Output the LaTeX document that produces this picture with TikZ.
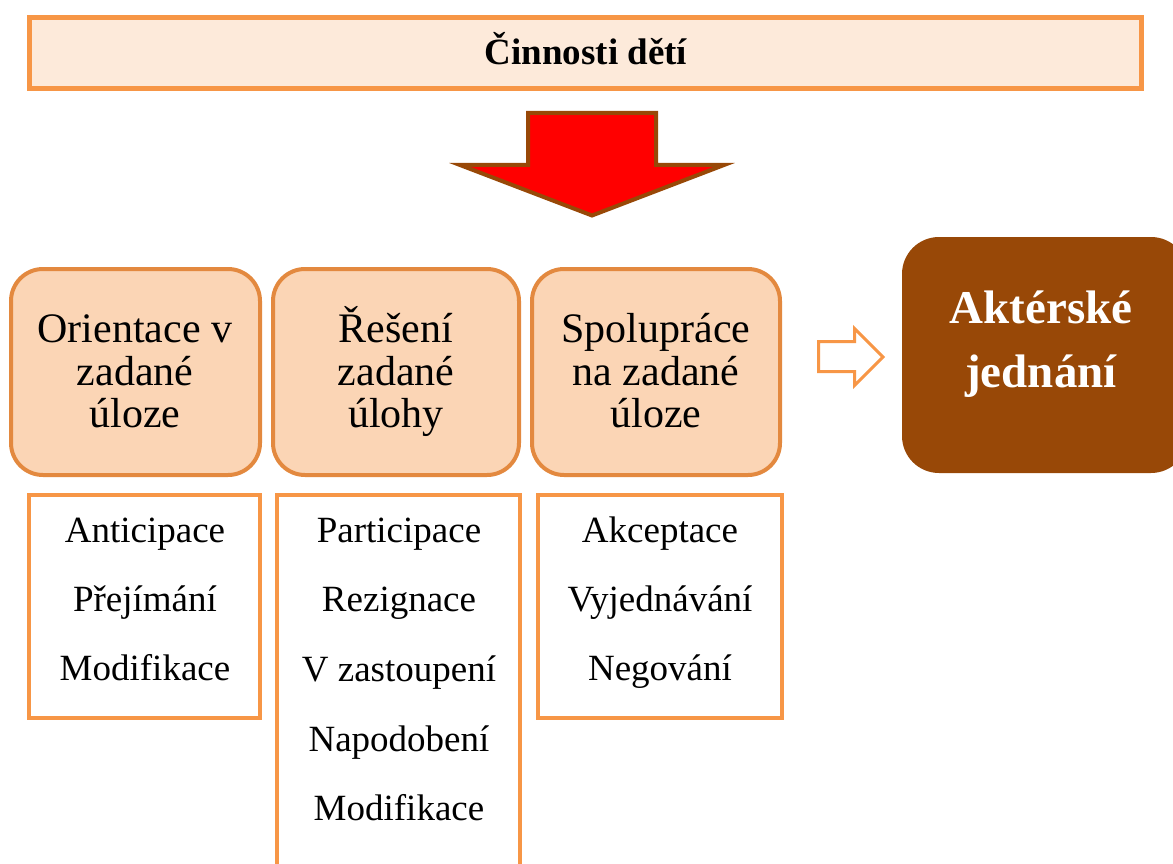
\documentclass[tikz,border=0pt]{standalone}
\usepackage{fontspec}
\setmainfont{Liberation Serif}
\definecolor{orangeA}{HTML}{F79646}
\definecolor{orangeB}{HTML}{E3893F}
\definecolor{peachA}{HTML}{FDEADA}
\definecolor{peachB}{HTML}{FBD5B5}
\definecolor{brownA}{HTML}{984807}
\begin{document}
\begin{tikzpicture}[x=1pt,y=-1pt,
  topbar/.style={draw=orangeA,line width=5pt,fill=peachA},
  catbox/.style={draw=orangeB,line width=4pt,fill=peachB,rounded corners=32pt},
  listbox/.style={draw=orangeA,line width=4pt,fill=white},
  cattext/.style={anchor=base,inner sep=0pt,font=\fontsize{42}{43}\selectfont},
  listtext/.style={anchor=base,inner sep=0pt,font=\fontsize{37}{40}\selectfont},
  titletext/.style={anchor=base,inner sep=0pt,font=\fontsize{37}{40}\selectfont\bfseries},
  actortext/.style={anchor=base,inner sep=0pt,text=white,font=\fontsize{47}{50}\selectfont\bfseries}]
\useasboundingbox (0,0) rectangle (1173,864);
\begin{scope}
\clip (0,0) rectangle (1173,864);
% top bar
\draw[topbar] (29.5,17.5) rectangle (1141.5,88.5);
\node[titletext] (title) at (586,65) {Činnosti dětí};
% red arrow
\draw[draw=brownA,line width=4pt,fill=red,line join=miter]
  (528,113) -- (656,113) -- (656,165) -- (724,165) -- (592,215.5) -- (460,165) -- (528,165) -- cycle;
% category boxes
\draw[catbox] (11,269) rectangle (260,475);
\draw[catbox] (273,269) rectangle (519,475);
\draw[catbox] (532,269) rectangle (780,475);
\node[cattext] (c1a) at (135,342) {Orientace v};
\node[cattext] (c1b) at (135,385) {zadané};
\node[cattext] (c1c) at (135,427) {úloze};
\node[cattext] (c2a) at (396,342) {Řešení};
\node[cattext] (c2b) at (396,385) {zadané};
\node[cattext] (c2c) at (396,427) {úlohy};
\node[cattext] (c3a) at (656,342) {Spolupráce};
\node[cattext] (c3b) at (656,385) {na zadané};
\node[cattext] (c3c) at (656,427) {úloze};
% hollow arrow
\draw[draw=orangeA,line width=3pt,fill=white,line join=miter]
  (818.5,341.5) -- (854.5,341.5) -- (854.5,328.5) -- (883,357) -- (854.5,385.5) -- (854.5,371.5) -- (818.5,371.5) -- cycle;
% actor box
\fill[brownA,rounded corners=37pt] (902,237) rectangle (1188,473);
\node[actortext] (a1) at (1041,323) {Aktérské};
\node[actortext] (a2) at (1041,387) {jednání};
% list boxes
\draw[listbox] (29,495) rectangle (260,718);
\draw[listbox] (277,495) rectangle (520,880);
\draw[listbox] (538,495) rectangle (782,718);
\node[listtext] (l1a) at (145,542) {Anticipace};
\node[listtext] (l1b) at (145,611) {Přejímání};
\node[listtext] (l1c) at (145,680) {Modifikace};
\node[listtext] (l2a) at (399,542) {Participace};
\node[listtext] (l2b) at (399,611) {Rezignace};
\node[listtext] (l2c) at (399,681) {V zastoupení};
\node[listtext] (l2d) at (399,751) {Napodobení};
\node[listtext] (l2e) at (399,820) {Modifikace};
\node[listtext] (l3a) at (660,542) {Akceptace};
\node[listtext] (l3b) at (660,611) {Vyjednávání};
\node[listtext] (l3c) at (660,680) {Negování};
\end{scope}
\end{tikzpicture}
\end{document}
